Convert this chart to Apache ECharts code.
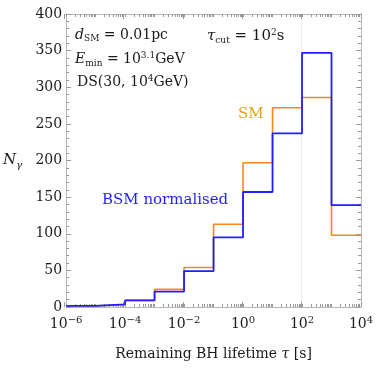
<!DOCTYPE html>
<html>
<head>
<meta charset="utf-8">
<script src="https://cdn.jsdelivr.net/npm/echarts@6/dist/echarts.min.js"></script>
<style>
  html, body { margin: 0; padding: 0; background: #fff; }
  #chart { width: 377px; height: 370px; }
</style>
</head>
<body>
<div id="chart"></div>
<script>
// bin edges as powers of ten, one bin per decade
var binExponents = [-6, -5, -4, -3, -2, -1, 0, 1, 2, 3, 4];
var smCounts  = [1.5, 3.5, 9, 24, 54, 113, 197, 272, 286, 98];
var bsmCounts = [1.5, 3.5, 9, 21, 49, 95, 157, 237, 347, 139];
var yTicks = [0, 50, 100, 150, 200, 250, 300, 350, 400];
var tauCut = 100;

var FONT = 'DejaVu Serif';

// step histogram: one point per left edge, plus the last right edge
function histData(counts) {
    var pts = [];
    counts.forEach(function (c, i) {
        pts.push([Math.pow(10, binExponents[i]), c]);
    });
    pts.push([Math.pow(10, binExponents[binExponents.length - 1]), counts[counts.length - 1]]);
    return pts;
}

// major ticks every second decade, minor ticks at 1..9 x 10^n
var majorVals = [];
for (var m = binExponents[0]; m <= binExponents[binExponents.length - 1]; m += 2) {
    majorVals.push(Math.pow(10, m));
}
var minorVals = [];
for (var e = binExponents[0]; e < binExponents[binExponents.length - 1]; e++) {
    for (var k = 1; k <= 9; k++) minorVals.push(k * Math.pow(10, e));
}

function powLabel(v) {
    var ex = Math.round(Math.log10(v));
    return '10{s|' + String(ex).replace('-', '\u2212') + '}';
}

var chart = echarts.init(document.getElementById('chart'));

var rect = { left: 64, right: 16, top: 14, bottom: 63 };
var frame = { show: true, onZero: false, lineStyle: { color: '#b8b8b8', width: 1 } };
var noLine = { show: false, onZero: false };
var TICK = '#9a9a9a';

function logX(grid, pos, vals, len, extra) {
    var ax = {
        type: 'log', logBase: 10, gridIndex: grid,
        min: 1e-6, max: 1e4,
        position: pos,
        axisLine: grid === 0 ? frame : noLine,
        axisTick: { show: true, inside: true, length: len, lineStyle: { color: TICK, width: 1 }, customValues: vals },
        axisLabel: { show: false, customValues: vals },
        splitLine: { show: false }
    };
    return Object.assign(ax, extra || {});
}

function linY(grid, pos, extra) {
    var ax = {
        type: 'value', gridIndex: grid, min: 0, max: 400, interval: 50,
        position: pos,
        axisLine: grid === 0 ? frame : noLine,
        axisTick: { show: grid === 0, inside: true, length: 5, lineStyle: { color: TICK } },
        minorTick: { show: grid === 0, splitNumber: 5, length: 3, lineStyle: { color: TICK } },
        axisLabel: { show: false },
        splitLine: { show: false }
    };
    return Object.assign(ax, extra || {});
}

var option = {
    animation: false,
    backgroundColor: '#fff',
    grid: [rect, rect],
    xAxis: [
        logX(0, 'bottom', minorVals, 3, {
            axisLabel: {
                fontFamily: FONT, fontSize: 14, color: '#1a1a1a', margin: 8,
                customValues: majorVals,
                formatter: powLabel,
                rich: { s: { fontFamily: FONT, fontSize: 10, padding: [0, 0, 9, 0], color: '#1a1a1a' } }
            },
            name: 'Remaining BH lifetime {i|\u03c4} [s]',
            nameLocation: 'middle', nameGap: 40,
            nameTextStyle: {
                fontFamily: FONT, fontSize: 14, color: '#1a1a1a',
                rich: { i: { fontFamily: FONT, fontStyle: 'italic', fontSize: 14, color: '#1a1a1a' } }
            }
        }),
        logX(0, 'top', minorVals, 3),
        logX(1, 'bottom', majorVals, 5),
        logX(1, 'top', majorVals, 5)
    ],
    yAxis: [
        linY(0, 'left', {
            axisLabel: {
                fontFamily: FONT, fontSize: 14, color: '#1a1a1a', margin: 4,
                customValues: yTicks
            },
            name: '{i|N}{sub|\u03b3}',
            nameLocation: 'middle', nameGap: 44, nameRotate: 0,
            nameTextStyle: {
                fontFamily: FONT, fontSize: 14, color: '#1a1a1a',
                rich: {
                    i: { fontFamily: FONT, fontStyle: 'italic', fontSize: 15, color: '#1a1a1a' },
                    sub: { fontFamily: FONT, fontStyle: 'italic', fontSize: 10, padding: [9, 0, 0, 0], color: '#1a1a1a' }
                }
            }
        }),
        linY(0, 'right'),
        linY(1, 'left')
    ],
    series: [
        {
            name: 'cut', type: 'line',
            xAxisIndex: 2, yAxisIndex: 2,
            data: [],
            markLine: {
                silent: true, symbol: 'none', label: { show: false }, z: 0,
                lineStyle: { color: '#ececec', width: 1, type: 'solid' },
                data: [{ xAxis: tauCut }]
            },
            z: 0
        },
        {
            name: 'SM', type: 'line', step: 'end',
            xAxisIndex: 0, yAxisIndex: 0,
            data: histData(smCounts),
            showSymbol: false,
            lineStyle: { color: '#f7871c', width: 1.6 },
            z: 2
        },
        {
            name: 'BSM normalised', type: 'line', step: 'end',
            xAxisIndex: 0, yAxisIndex: 0,
            data: histData(bsmCounts),
            showSymbol: false,
            lineStyle: { color: '#1f1fff', width: 1.8 },
            z: 3
        }
    ],
    graphic: [
        {
            type: 'text', left: 75, top: 28,
            style: {
                text: '{i|d}{sub|SM} = 0.01pc',
                font: '14px "DejaVu Serif"', fill: '#1a1a1a',
                rich: {
                    i: { fontFamily: FONT, fontStyle: 'italic', fontSize: 14, lineHeight: 18 },
                    sub: { fontFamily: FONT, fontSize: 9, padding: [8, 0, 0, 0] }
                }
            }
        },
        {
            type: 'text', left: 75, top: 51,
            style: {
                text: '{i|E}{sub|min} = 10{sup|3.1}GeV',
                font: '14px "DejaVu Serif"', fill: '#1a1a1a',
                rich: {
                    i: { fontFamily: FONT, fontStyle: 'italic', fontSize: 14, lineHeight: 18 },
                    sub: { fontFamily: FONT, fontSize: 9, padding: [8, 0, 0, 0] },
                    sup: { fontFamily: FONT, fontSize: 9, padding: [0, 0, 8, 0] }
                }
            }
        },
        {
            type: 'text', left: 77, top: 74,
            style: {
                text: 'DS(30, 10{sup|4}GeV)',
                font: '14px "DejaVu Serif"', fill: '#1a1a1a',
                rich: {
                    sup: { fontFamily: FONT, fontSize: 9, padding: [0, 0, 8, 0] }
                }
            }
        },
        {
            type: 'text', left: 207, top: 28,
            style: {
                text: '{i|\u03c4}{sub|cut} = 10{sup|2}s',
                font: '15px "DejaVu Serif"', fill: '#1a1a1a',
                rich: {
                    i: { fontFamily: FONT, fontStyle: 'italic', fontSize: 15, lineHeight: 18 },
                    sub: { fontFamily: FONT, fontSize: 9, padding: [8, 0, 0, 0] },
                    sup: { fontFamily: FONT, fontSize: 9, padding: [0, 0, 8, 0] }
                }
            }
        },
        {
            type: 'text', left: 238, top: 107,
            style: { text: 'SM', font: '15px "DejaVu Serif"', fill: '#dca41a' }
        },
        {
            type: 'text', left: 102, top: 193,
            style: { text: 'BSM normalised', font: '15px "DejaVu Serif"', fill: '#1f1fff' }
        }
    ]
};

chart.setOption(option);
</script>
</body>
</html>
